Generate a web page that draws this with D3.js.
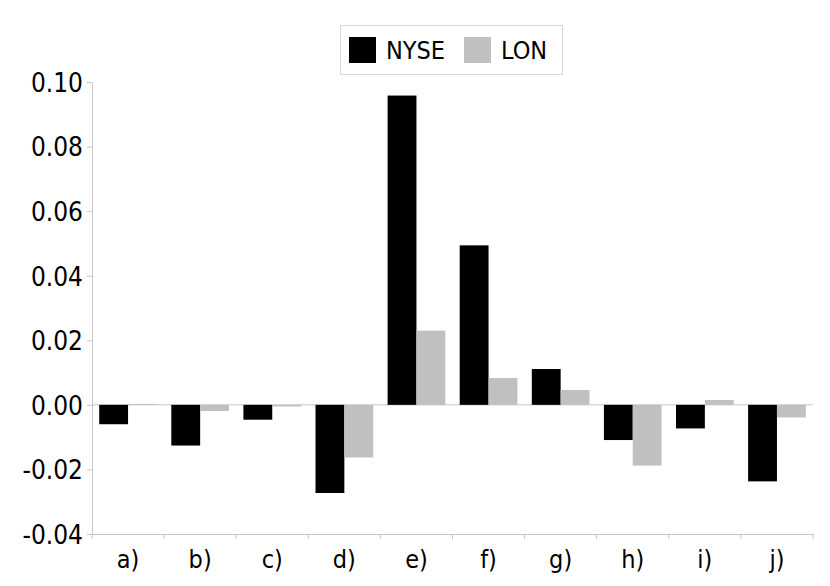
<!DOCTYPE html>
<html><head><meta charset="utf-8">
<script src="https://cdn.jsdelivr.net/npm/d3@7"></script>
<style>body{margin:0;background:#fff}text{font-family:"DejaVu Sans Condensed","DejaVu Sans",sans-serif;font-stretch:condensed}</style>
</head><body><svg id="c" width="830" height="586"></svg>
<script>
const categories = ["a)","b)","c)","d)","e)","f)","g)","h)","i)","j)"];
const seriesNames = ["NYSE","LON"];
const nyse = [-0.0060,-0.0126,-0.0046,-0.0273,0.0958,0.0494,0.0111,-0.0109,-0.0073,-0.0237];
const lon  = [0.0003,-0.0019,-0.0005,-0.0163,0.0230,0.0083,0.0046,-0.0188,0.0015,-0.0039];
const yTicks = [-0.04,-0.02,0.00,0.02,0.04,0.06,0.08,0.10];
const colors = ["#000000","#c0c0c0"];

(function(){
const svg = d3.select("#c");
const mLeft = 92, mRight = 813, mTop = 82, mBottom = 534;
const x = d3.scaleBand().domain(categories).range([mLeft,mRight]).paddingInner(0).paddingOuter(0);
const x1 = d3.scaleBand().domain(seriesNames).range([0,x.bandwidth()]).paddingInner(0).paddingOuter(0.25);
const y = d3.scaleLinear().domain([-0.04,0.10]).range([mBottom,mTop]);
const axisColor = "#c6c6c6";

// y axis
const ya = svg.append("g").attr("transform",`translate(${mLeft},0)`)
  .call(d3.axisLeft(y).tickValues(yTicks).tickFormat(d3.format(".2f")).tickSize(5).tickSizeOuter(0));
ya.select(".domain").attr("stroke",axisColor);
ya.selectAll(".tick line").attr("stroke",axisColor);
ya.selectAll(".tick text").attr("font-size",26).attr("font-family",null).attr("fill","#000").attr("x",-9).attr("dy","0.36em")
  .text(d=>d3.format(".2f")(d).replace("−","-"));

// x axis (bottom)
const xa = svg.append("g").attr("transform",`translate(0,${mBottom})`)
  .call(d3.axisBottom(x).tickSize(0).tickSizeOuter(0));
xa.select(".domain").attr("stroke",axisColor);
xa.selectAll(".tick text").attr("font-size",25).attr("font-family",null).attr("fill","#000").attr("y",34).attr("dy",0);
// boundary ticks
svg.append("g").selectAll("line").data(d3.range(categories.length+1))
  .join("line")
  .attr("x1",i=>i<categories.length? x(categories[i]) : x.range()[1])
  .attr("x2",i=>i<categories.length? x(categories[i]) : x.range()[1])
  .attr("y1",mBottom).attr("y2",mBottom+5).attr("stroke",axisColor);

// zero line
svg.append("line").attr("x1",mLeft).attr("x2",mRight).attr("y1",y(0)).attr("y2",y(0)).attr("stroke",axisColor);

// bars
const data = categories.map((c,i)=>({cat:c, vals:[nyse[i],lon[i]]}));
const g = svg.append("g").selectAll("g").data(data).join("g").attr("transform",d=>`translate(${x(d.cat)},0)`);
g.selectAll("rect").data(d=>d.vals.map((v,j)=>({v,s:seriesNames[j],j})))
  .join("rect")
  .attr("x",d=>x1(d.s)).attr("width",x1.bandwidth())
  .attr("y",d=>y(Math.max(0,d.v))).attr("height",d=>Math.abs(y(d.v)-y(0)))
  .attr("fill",d=>colors[d.j]);

// legend
const lg = svg.append("g");
lg.append("rect").attr("x",340.5).attr("y",25.5).attr("width",222).attr("height",49).attr("fill","#fff").attr("stroke","#d9d9d9");
const items = [{sx:349,tx:386},{sx:464,tx:501}];
items.forEach((it,j)=>{
  lg.append("rect").attr("x",it.sx).attr("y",37).attr("width",27).attr("height",26).attr("fill",colors[j]);
  lg.append("text").attr("x",it.tx).attr("y",59.3).attr("font-size",25).text(seriesNames[j]);
});
})();
</script></body></html>
